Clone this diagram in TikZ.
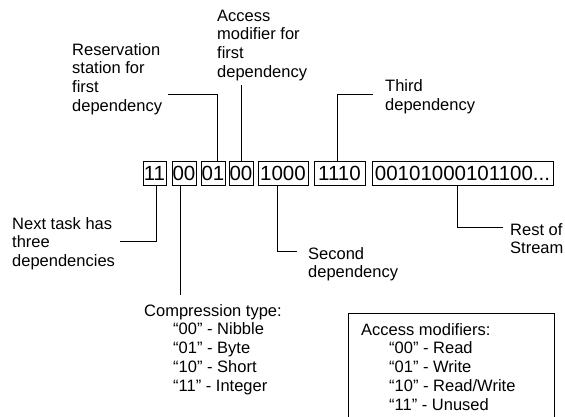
\documentclass[tikz,border=0pt]{standalone}
\usepackage{fontspec}
\setmainfont{Liberation Sans}
\begin{document}
\begin{tikzpicture}[x=1pt,y=-1pt,
  bit/.style={draw, line width=1pt, inner sep=0pt, minimum height=23pt,
              font=\fontsize{20.5}{22}\selectfont},
  lbl/.style={anchor=north west, inner sep=0pt, align=left,
              font=\fontsize{16.5}{18.8}\selectfont},
  lead/.style={line width=1pt}]
\useasboundingbox (0,0) rectangle (565,417);

% the bit stream, field by field
\node[bit, minimum width=23pt]  (b1) at (154.5,173.5) {11};
\node[bit, minimum width=24pt]  (b2) at (184,173.5)   {00};
\node[bit, minimum width=24pt]  (b3) at (213,173.5)   {01};
\node[bit, minimum width=24pt]  (b4) at (241,173.5)   {00};
\node[bit, minimum width=50pt]  (b5) at (283,173.5)   {1000};
\node[bit, minimum width=51pt]  (b6) at (339.5,173.5) {1110};
\node[bit, minimum width=181pt] (b7) at (462.5,173.5) {00101000101100...};

% field descriptions
\node[lbl] (res)    at (72,43)   {Reservation\\station for\\first\\dependency};
\node[lbl] (acc)    at (217,9.5) {Access\\modifier for\\first\\dependency};
\node[lbl] (third)  at (385,79.5) {Third\\dependency};
\node[lbl] (next)   at (12,217)  {Next task has\\three\\dependencies};
\node[lbl] (second) at (308,247) {Second\\dependency};
\node[lbl] (rest)   at (510,223) {Rest of\\Stream};
\node[lbl] (comp)   at (144,304) {Compression type:\\
  \hspace*{29pt}“00” - Nibble\\
  \hspace*{29pt}“01” - Byte\\
  \hspace*{29pt}“10” - Short\\
  \hspace*{29pt}“11” - Integer};
\node[lbl] (mods)   at (361,323) {Access modifiers:\\
  \hspace*{28pt}“00” - Read\\
  \hspace*{28pt}“01” - Write\\
  \hspace*{28pt}“10” - Read/Write\\
  \hspace*{28pt}“11” - Unused};

% leader end points
\coordinate (nextEnd)   at (120,241);
\coordinate (compEnd)   at (180,295);
\coordinate (secondEnd) at (297,251);
\coordinate (restEnd)   at (503,227);
\coordinate (resEnd)    at (168,95);
\coordinate (accEnd)    at (241,85);
\coordinate (thirdEnd)  at (373,95);

% leaders from the fields to their descriptions
\draw[lead] ([xshift=1.5pt]b1.south) |- (nextEnd);
\draw[lead] ([xshift=-4pt]b2.south) -- (compEnd);
\draw[lead] ([xshift=-6pt]b5.south) |- (secondEnd);
\draw[lead] ([xshift=-5.5pt]b7.south) |- (restEnd);
\draw[lead] ([xshift=4pt]b3.north) |- (resEnd);
\draw[lead] (b4.north) -- (accEnd);
\draw[lead] ([xshift=-2.5pt]b6.north) |- (thirdEnd);

% frame round the access modifier legend, open below
\draw[lead] (348,420) |- (554,313) -- (554,420);
\end{tikzpicture}
\end{document}
